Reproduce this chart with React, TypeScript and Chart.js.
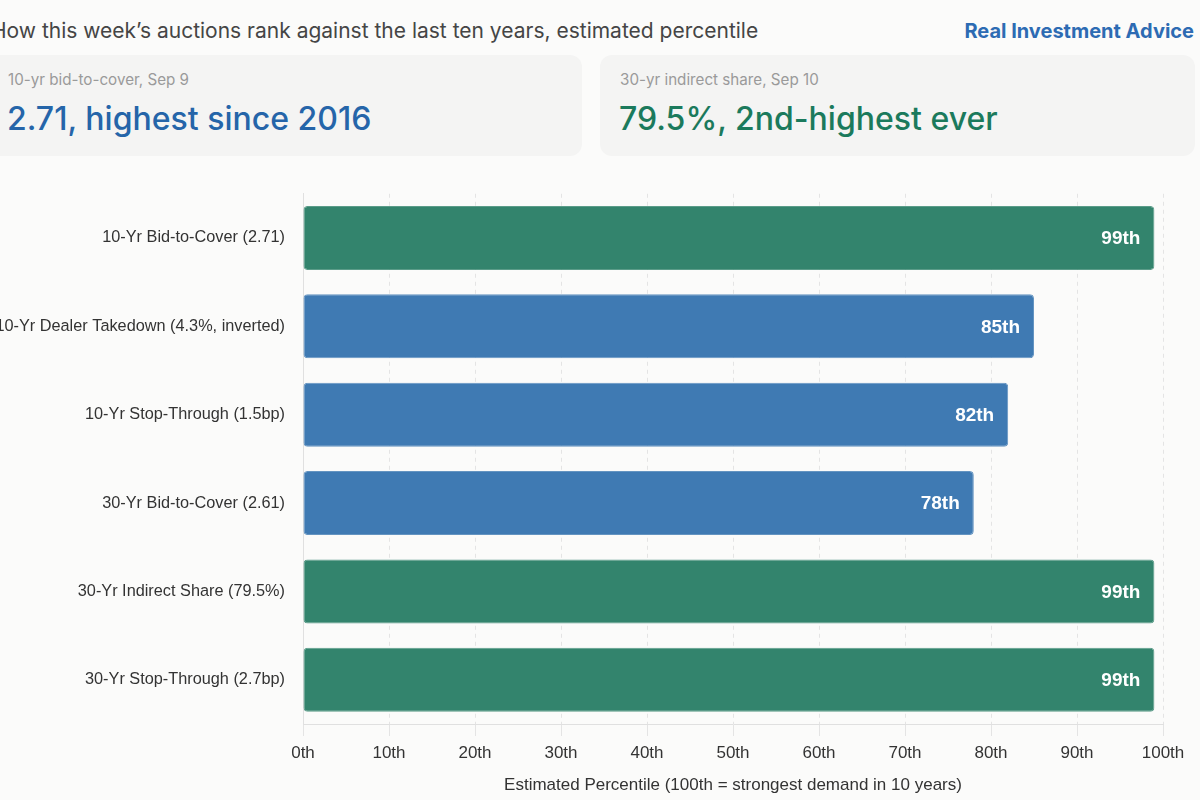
import React, { useEffect, useRef } from "react";
import { Chart, registerables } from "chart.js";

Chart.register(...registerables);

const categories = [
  "10-Yr Bid-to-Cover (2.71)",
  "10-Yr Dealer Takedown (4.3%, inverted)",
  "10-Yr Stop-Through (1.5bp)",
  "30-Yr Bid-to-Cover (2.61)",
  "30-Yr Indirect Share (79.5%)",
  "30-Yr Stop-Through (2.7bp)",
];
const percentiles = [99, 85, 82, 78, 99, 99];
const barColors = ["#33846d", "#3f7ab3", "#3f7ab3", "#3f7ab3", "#33846d", "#33846d"];
const xTicks = [0, 10, 20, 30, 40, 50, 60, 70, 80, 90, 100];

const title = "How this week\u2019s auctions rank against the last ten years, estimated percentile";
const brand = "Real Investment Advice";
const card1Label = "10-yr bid-to-cover, Sep 9";
const card1Value = "2.71, highest since 2016";
const card2Label = "30-yr indirect share, Sep 10";
const card2Value = "79.5%, 2nd-highest ever";

const axisFont = "'Liberation Sans', Arial, sans-serif";

const valueLabels = {
  id: "valueLabels",
  afterDatasetsDraw(chart: any) {
    const ctx = chart.ctx;
    const meta = chart.getDatasetMeta(0);
    ctx.save();
    ctx.font = `bold 19px ${axisFont}`;
    ctx.fillStyle = "#ffffff";
    ctx.textAlign = "right";
    ctx.textBaseline = "middle";
    meta.data.forEach((el: any, i: number) => {
      ctx.fillText(`${percentiles[i]}th`, el.x - 14, el.y + 1);
    });
    ctx.restore();
  },
};

export default function App() {
  const ref = useRef<HTMLCanvasElement | null>(null);

  useEffect(() => {
    if (!ref.current) return;
    const chart = new Chart(ref.current, {
      type: "bar",
      data: {
        labels: categories,
        datasets: [
          {
            data: percentiles,
            backgroundColor: barColors,
            borderColor: barColors.map((c) => c + "cc"),
            borderWidth: 1,
            borderRadius: 4,
            borderSkipped: false,
            categoryPercentage: 1,
            barPercentage: 0.725,
          },
        ],
      },
      options: {
        indexAxis: "y",
        animation: false,
        responsive: false,
        maintainAspectRatio: false,
        layout: { padding: { top: 16, right: 37, bottom: 0, left: 0 } },
        plugins: {
          legend: { display: false },
          tooltip: { enabled: false },
          title: { display: false },
        },
        scales: {
          x: {
            min: 0,
            max: 100,
            afterBuildTicks: (scale: any) => {
              scale.ticks = xTicks.map((v) => ({ value: v }));
            },
            afterFit: (scale: any) => {
              scale.height = 76;
            },
            grid: {
              color: "#e4e4e4",
              lineWidth: 1,
              tickLength: 12,
              tickColor: "#e4e4e4",
            },
            border: { display: true, color: "#e0e0e0", dash: [4, 4] },
            ticks: {
              color: "#333333",
              padding: 7,
              font: { family: axisFont, size: 17 },
              callback: (v: any) => `${v}th`,
            },
            title: {
              display: true,
              text: "Estimated Percentile (100th = strongest demand in 10 years)",
              color: "#333333",
              font: { family: axisFont, size: 17 },
              padding: { top: 8, bottom: 4 },
            },
          },
          y: {
            afterFit: (scale: any) => {
              scale.width = 343;
            },
            grid: { display: false, drawTicks: false },
            border: { display: true, color: "#e0e0e0" },
            ticks: {
              color: "#333333",
              padding: 18,
              font: { family: axisFont, size: 16.3 },
            },
          },
        },
      },
      plugins: [valueLabels],
    });
    return () => chart.destroy();
  }, []);

  const sans = "Inter, 'Noto Sans', sans-serif";
  const cardStyle: React.CSSProperties = {
    position: "absolute",
    top: 55,
    height: 101,
    background: "#f4f4f3",
    borderRadius: 12,
    boxSizing: "border-box",
  };
  const labelStyle: React.CSSProperties = {
    position: "absolute",
    top: 15,
    fontSize: 15.2,
    color: "#9a9a9a",
    whiteSpace: "nowrap",
  };
  const valueStyle: React.CSSProperties = {
    position: "absolute",
    top: 44,
    fontSize: 32,
    fontWeight: 500,
    whiteSpace: "nowrap",
  };

  return (
    <div
      style={{
        position: "fixed",
        left: 0,
        top: 0,
        width: 1200,
        height: 800,
        overflow: "hidden",
        background: "#fbfbfa",
        fontFamily: sans,
      }}
    >
      <div
        style={{
          position: "absolute",
          left: -9,
          top: 18,
          fontSize: 21,
          color: "#454545",
          whiteSpace: "nowrap",
        }}
      >
        {title}
      </div>
      <div
        style={{
          position: "absolute",
          right: 6,
          top: 19,
          fontSize: 20,
          fontWeight: 700,
          color: "#2d6bb3",
          whiteSpace: "nowrap",
        }}
      >
        {brand}
      </div>
      <div style={{ ...cardStyle, left: -20, width: 602 }}>
        <div style={{ ...labelStyle, left: 28 }}>{card1Label}</div>
        <div style={{ ...valueStyle, left: 27, color: "#2565a9" }}>{card1Value}</div>
      </div>
      <div style={{ ...cardStyle, left: 600, width: 595 }}>
        <div style={{ ...labelStyle, left: 20 }}>{card2Label}</div>
        <div style={{ ...valueStyle, left: 19, color: "#1b7a5c" }}>{card2Value}</div>
      </div>
      <canvas
        ref={ref}
        width={1240}
        height={634}
        style={{ position: "absolute", left: -40, top: 166, width: 1240, height: 634 }}
      />
    </div>
  );
}
